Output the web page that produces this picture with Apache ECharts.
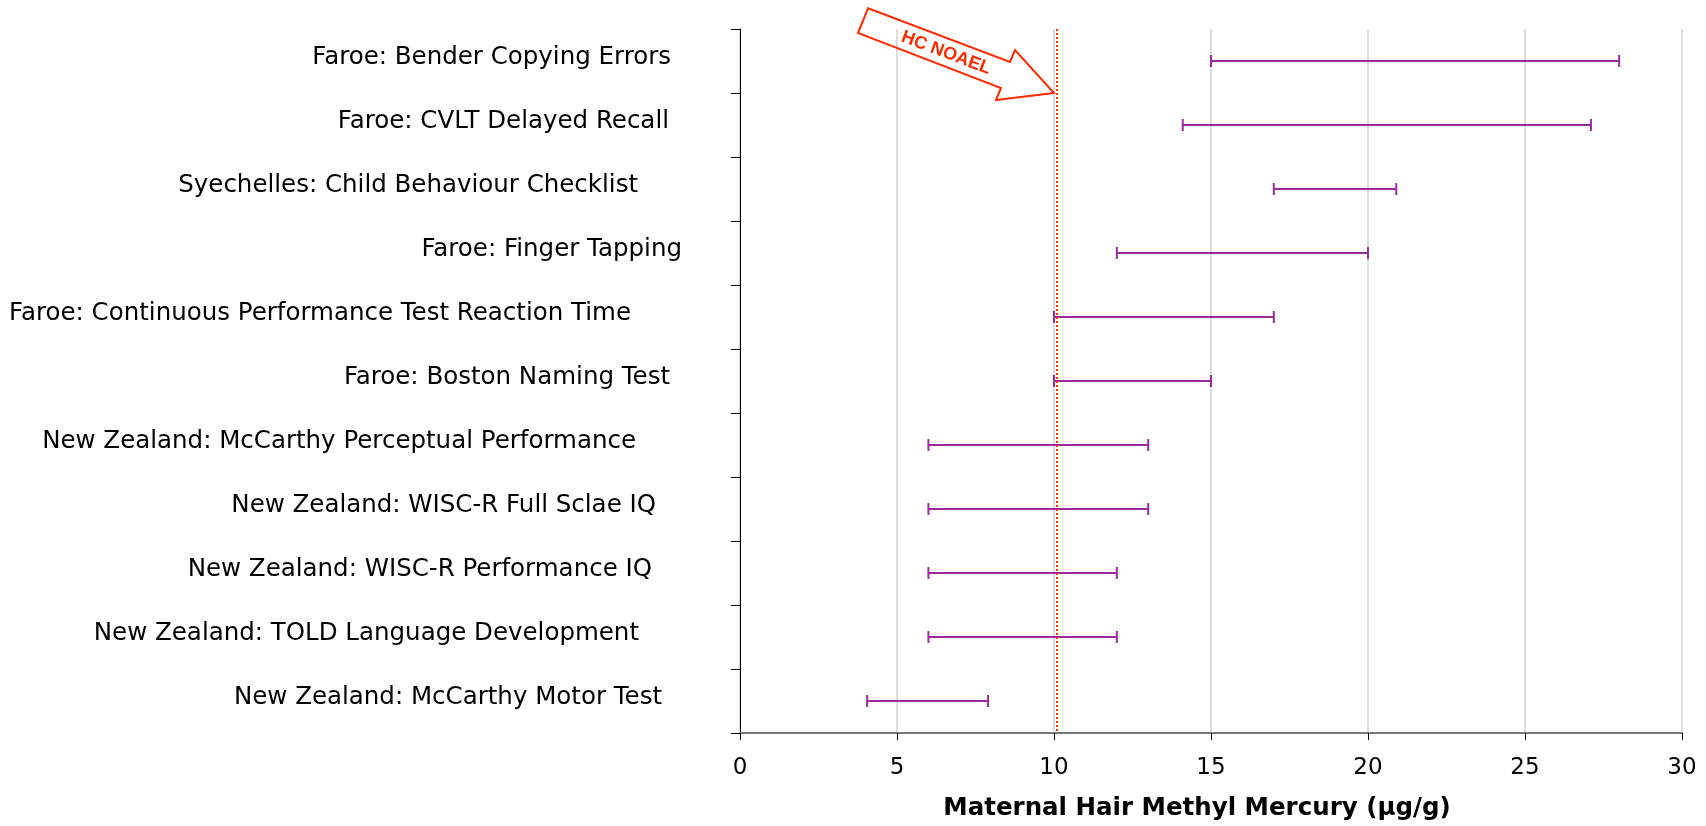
<!DOCTYPE html>
<html>
<head>
<meta charset="utf-8">
<script src="https://cdn.jsdelivr.net/npm/echarts@6/dist/echarts.min.js"></script>
<style>
html,body{margin:0;padding:0;background:#fff;}
#chart{width:1706px;height:826px;}
</style>
</head>
<body>
<div id="chart"></div>
<script>
// ---- data ----
var categories = [
  'Faroe: Bender Copying Errors',
  'Faroe: CVLT Delayed Recall',
  'Syechelles: Child Behaviour Checklist',
  'Faroe: Finger Tapping',
  'Faroe: Continuous Performance Test Reaction Time',
  'Faroe: Boston Naming Test',
  'New Zealand: McCarthy Perceptual Performance',
  'New Zealand: WISC-R Full Sclae IQ',
  'New Zealand: WISC-R Performance IQ',
  'New Zealand: TOLD Language Development',
  'New Zealand: McCarthy Motor Test'
];
var lowValues  = [15, 14.1, 17, 12, 10, 10, 6, 6, 6, 6, 4.05];
var highValues = [28, 27.1, 20.9, 20, 17, 15, 13, 13, 12, 12, 7.9];
var xTicks = [0, 5, 10, 15, 20, 25, 30];
var noaelLineValue = 10.1;
var noaelArrowValue = 10;
var noaelLabel = 'HC NOAEL';
var xAxisTitle = 'Maternal Hair Methyl Mercury (\u00b5g/g)';

// ---- label layout (style only) ----
var labelGaps = [69, 71, 102, 58, 109, 70, 104, 84, 88, 101, 78];

var rich = {};
labelGaps.forEach(function (g, i) {
  rich['g' + i] = {padding: [0, g, 6, 0], fontFamily: 'DejaVu Sans', fontSize: 24.5, color: '#000'};
});

var barData = categories.map(function (c, i) { return [i, lowValues[i], highValues[i]]; });

var barColor = '#9b2a9f';
var red = '#ff2a00';

var chart = echarts.init(document.getElementById('chart'), null, {renderer: 'canvas'});
chart.setOption({
  animation: false,
  backgroundColor: '#fff',
  grid: {left: 740, right: 24, top: 29, bottom: 91, containLabel: false},
  xAxis: {
    type: 'value',
    min: xTicks[0], max: xTicks[xTicks.length - 1], interval: 5,
    axisLine: {show: true, lineStyle: {color: '#7a7a7a', width: 2}},
    axisTick: {show: true, length: 7, lineStyle: {color: '#000', width: 1}},
    axisLabel: {margin: 24, fontFamily: 'DejaVu Sans', fontSize: 23, color: '#000'},
    splitLine: {show: true, lineStyle: {color: '#d2d2d2', width: 1.5}},
    name: xAxisTitle,
    nameLocation: 'middle',
    nameGap: 63,
    nameTextStyle: {fontFamily: 'DejaVu Sans', fontWeight: 'bold', fontSize: 24.5, color: '#000', padding: [0, 28, 0, 0]}
  },
  yAxis: {
    type: 'category',
    data: categories,
    inverse: true,
    axisLine: {show: true, lineStyle: {color: '#000', width: 1}},
    axisTick: {show: true, length: 9, lineStyle: {color: '#000', width: 1}},
    axisLabel: {
      margin: 0,
      formatter: function (v, i) { return '{g' + i + '|' + v + '}'; },
      rich: rich
    },
    splitLine: {show: false}
  },
  series: [
    {
      type: 'custom',
      data: barData,
      encode: {x: [1, 2], y: 0},
      renderItem: function (params, api) {
        var y = api.value(0), lo = api.value(1), hi = api.value(2);
        var p1 = api.coord([lo, y]);
        var p2 = api.coord([hi, y]);
        var h = 6;
        var st = {stroke: barColor, lineWidth: 2};
        return {type: 'group', children: [
          {type: 'line', shape: {x1: p1[0], y1: p1[1], x2: p2[0], y2: p2[1]}, style: st},
          {type: 'line', shape: {x1: p1[0], y1: p1[1] - h, x2: p1[0], y2: p1[1] + h}, style: st},
          {type: 'line', shape: {x1: p2[0], y1: p2[1] - h, x2: p2[0], y2: p2[1] + h}, style: st}
        ]};
      },
      markLine: {
        silent: true,
        symbol: 'none',
        label: {show: false},
        lineStyle: {color: '#ff3300', type: 'dotted', width: 2},
        data: [{xAxis: noaelLineValue}]
      },
      z: 3
    },
    {
      type: 'custom',
      data: [[0, noaelArrowValue]],
      encode: {x: 1, y: 0},
      silent: true,
      renderItem: function (params, api) {
        var c = api.coord([api.value(1), api.value(0)]);
        var band = api.size([0, 1])[1];
        var tx = c[0], ty = c[1] + band / 2;
        var rel = [[-186, -84.7], [-44, -31], [-39, -43], [0, 0], [-58, 7], [-53, -5], [-196, -60]];
        var pts = rel.map(function (p) { return [tx + p[0], ty + p[1]]; });
        return {type: 'group', children: [
          {type: 'polygon', shape: {points: pts}, style: {fill: 'none', stroke: red, lineWidth: 2, lineJoin: 'miter'}},
          {type: 'text', x: tx - 108, y: ty - 40, rotation: -20.7 * Math.PI / 180,
           style: {text: noaelLabel, fill: red, fontFamily: 'Liberation Sans', fontWeight: 'bold', fontSize: 18,
                   align: 'center', verticalAlign: 'middle'}}
        ]};
      },
      z: 4
    }
  ]
});
</script>
</body>
</html>
